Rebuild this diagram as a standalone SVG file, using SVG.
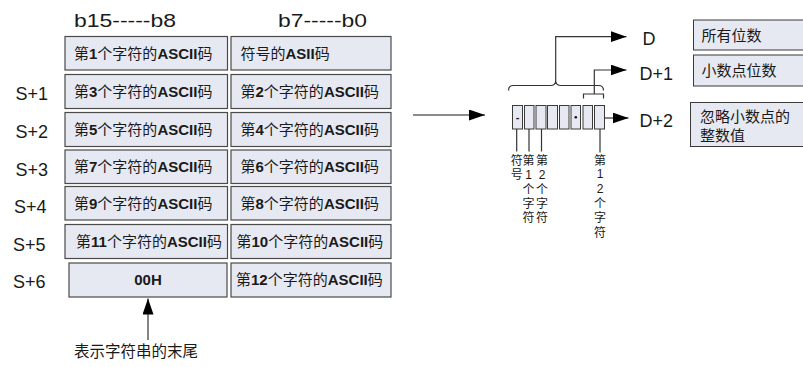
<svg xmlns="http://www.w3.org/2000/svg" width="803" height="367" viewBox="0 0 803 367">
<style>
.bg{fill:#ffffff}
.cell{fill:#e6e9f2;stroke:#4a4a4a;stroke-width:1.2}
.small{fill:#e6e9f2;stroke:#3a3a3a;stroke-width:1}
.t{font-family:"Liberation Sans","Noto Sans CJK SC",sans-serif;fill:#1a1a1a}
.ct{font-size:15px}
.b{font-weight:bold}
.hd{font-size:18.5px}
.lb{font-size:18px}
.sl{font-size:18px}
.vt{font-size:12px;text-anchor:middle}
.ln{fill:none;stroke:#333;stroke-width:1.2}
.gl{fill:none;stroke:#666;stroke-width:1.5}
</style>
<defs>
<marker id="ahb" markerWidth="16" markerHeight="11" refX="16" refY="5.5" orient="auto" markerUnits="userSpaceOnUse">
<path d="M0,0 L16,5.5 L0,11 Z" fill="#000"/>
</marker>
</defs>
<rect class="bg" x="0" y="0" width="803" height="367"/>

<g id="headers">
<text class="t hd" x="74" y="26.5" textLength="102" lengthAdjust="spacingAndGlyphs">b15-----b8</text>
<text class="t hd" x="278" y="26.5" textLength="89" lengthAdjust="spacingAndGlyphs">b7-----b0</text>
</g>

<g id="row-labels">
<text class="t sl" x="15.5" y="100">S+1</text>
<text class="t sl" x="15.5" y="138">S+2</text>
<text class="t sl" x="15.5" y="175.5">S+3</text>
<text class="t sl" x="14" y="213">S+4</text>
<text class="t sl" x="13" y="251">S+5</text>
<text class="t sl" x="13" y="288">S+6</text>
</g>

<g id="r1">
<rect class="cell" x="65" y="36.5" width="162.5" height="33.5"/>
<text class="t ct" x="74" y="58.5">第<tspan class="b">1</tspan>个字符的<tspan class="b">ASCII</tspan>码</text>
<rect class="cell" x="231" y="36.5" width="160" height="33.5"/>
<text class="t ct" x="240.5" y="58.5">符号的<tspan class="b">ASII</tspan>码</text>
</g>
<g id="r2">
<rect class="cell" x="65" y="74.5" width="162.5" height="34"/>
<text class="t ct" x="74" y="96.5">第<tspan class="b">3</tspan>个字符的<tspan class="b">ASCII</tspan>码</text>
<rect class="cell" x="231" y="74.5" width="160" height="34"/>
<text class="t ct" x="240.5" y="96.5">第<tspan class="b">2</tspan>个字符的<tspan class="b">ASCII</tspan>码</text>
</g>
<g id="r3">
<rect class="cell" x="65" y="112.5" width="162.5" height="34"/>
<text class="t ct" x="74" y="134.5">第<tspan class="b">5</tspan>个字符的<tspan class="b">ASCII</tspan>码</text>
<rect class="cell" x="231" y="112.5" width="160" height="34"/>
<text class="t ct" x="240.5" y="134.5">第<tspan class="b">4</tspan>个字符的<tspan class="b">ASCII</tspan>码</text>
</g>
<g id="r4">
<rect class="cell" x="65" y="150" width="162.5" height="33.5"/>
<text class="t ct" x="74" y="172">第<tspan class="b">7</tspan>个字符的<tspan class="b">ASCII</tspan>码</text>
<rect class="cell" x="231" y="150" width="160" height="33.5"/>
<text class="t ct" x="240.5" y="172">第<tspan class="b">6</tspan>个字符的<tspan class="b">ASCII</tspan>码</text>
</g>
<g id="r5">
<rect class="cell" x="65" y="186.5" width="162.5" height="33.5"/>
<text class="t ct" x="74" y="208.5">第<tspan class="b">9</tspan>个字符的<tspan class="b">ASCII</tspan>码</text>
<rect class="cell" x="231" y="186.5" width="160" height="33.5"/>
<text class="t ct" x="240.5" y="208.5">第<tspan class="b">8</tspan>个字符的<tspan class="b">ASCII</tspan>码</text>
</g>
<g id="r6">
<rect class="cell" x="65" y="224.5" width="162.5" height="34"/>
<text class="t ct" x="76" y="246.5">第<tspan class="b">11</tspan>个字符的<tspan class="b">ASCII</tspan>码</text>
<rect class="cell" x="231" y="224.5" width="160" height="34"/>
<text class="t ct" x="236.5" y="246.5">第<tspan class="b">10</tspan>个字符的<tspan class="b">ASCII</tspan>码</text>
</g>
<g id="r7">
<rect class="cell" x="69" y="263" width="158" height="34"/>
<text class="t ct b" x="148" y="285" text-anchor="middle">00H</text>
<rect class="cell" x="231" y="263" width="160" height="34"/>
<text class="t ct" x="236" y="285">第<tspan class="b">12</tspan>个字符的<tspan class="b">ASCII</tspan>码</text>
</g>

<g id="end-note">
<text class="t" font-size="15.5" x="74" y="357">表示字符串的末尾</text>
</g>

<g id="digits">
<rect class="small" x="512.5" y="105.5" width="10" height="23.5"/>
<text class="t" font-size="11" font-weight="bold" x="517.5" y="121" text-anchor="middle">-</text>
<rect class="small" x="524.5" y="105.5" width="9.5" height="23.5"/>
<rect class="small" x="536" y="105.5" width="10" height="23.5"/>
<rect class="small" x="547.5" y="105.5" width="10" height="23.5"/>
<rect class="small" x="559.5" y="105.5" width="9.5" height="23.5"/>
<rect class="small" x="571" y="105.5" width="9.5" height="23.5"/>
<circle cx="575.8" cy="117.3" r="1.3" fill="#111"/>
<rect class="small" x="583" y="105.5" width="9.5" height="23.5"/>
<rect class="small" x="594.5" y="105.5" width="10" height="23.5"/>
</g>

<g id="digit-labels">
<text class="t vt"><tspan x="516.7" y="164.5">符</tspan><tspan x="516.7" y="179">号</tspan></text>
<text class="t vt"><tspan x="528.5" y="164.5">第</tspan><tspan x="528.5" y="178.5">1</tspan><tspan x="528.5" y="194">个</tspan><tspan x="528.5" y="208">字</tspan><tspan x="528.5" y="222">符</tspan></text>
<text class="t vt"><tspan x="542" y="164.5">第</tspan><tspan x="542" y="178.5">2</tspan><tspan x="542" y="194">个</tspan><tspan x="542" y="208">字</tspan><tspan x="542" y="222">符</tspan></text>
<text class="t vt"><tspan x="600" y="164.5">第</tspan><tspan x="600" y="178">1</tspan><tspan x="600" y="192.5">2</tspan><tspan x="600" y="208">个</tspan><tspan x="600" y="222">字</tspan><tspan x="600" y="236.5">符</tspan></text>
</g>

<g id="d-labels">
<text class="t lb" x="642.5" y="45">D</text>
<text class="t lb" x="639.5" y="80">D+1</text>
<text class="t lb" x="639.5" y="126.5">D+2</text>
</g>

<g id="desc1">
<rect class="small" x="693.5" y="20" width="115" height="30"/>
<text class="t" font-size="15" x="701.5" y="40.5">所有位数</text>
</g>
<g id="desc2">
<rect class="small" x="693.5" y="55" width="115" height="31"/>
<text class="t" font-size="15" x="701.5" y="76">小数点位数</text>
</g>
<g id="desc3">
<rect class="small" x="690.5" y="102.5" width="118" height="44"/>
<text class="t" font-size="15" x="700" y="122">忽略小数点的</text>
<text class="t" font-size="15" x="700" y="140.5">整数值</text>
</g>

<g id="connectors">
<line class="gl" x1="413" y1="115" x2="485" y2="115" marker-end="url(#ahb)"/>
<line class="ln" x1="148" y1="340" x2="148" y2="298.5" marker-end="url(#ahb)"/>
<path class="ln" d="M508.5,90.5 Q508.5,85.5 513.5,85.5 L550.5,85.5 Q555.5,85.5 555.7,81 Q556,85.5 561,85.5 L598.5,85.5 Q603.5,85.5 603.5,90.5"/>
<path class="ln" d="M555.7,81 L555.7,36.7 L626.5,36.7" marker-end="url(#ahb)"/>
<path class="ln" d="M583.5,98.5 L583.5,94 L603.5,94 L603.5,98.5"/>
<path class="ln" d="M594.3,94 L594.3,70 L626.5,70" marker-end="url(#ahb)"/>
<line class="ln" x1="604.5" y1="118" x2="628.5" y2="118" marker-end="url(#ahb)"/>
<line class="ln" x1="516.7" y1="129" x2="516.7" y2="151.5"/>
<line class="ln" x1="529" y1="129" x2="529" y2="151.5"/>
<line class="ln" x1="541.5" y1="129" x2="541.5" y2="151.5"/>
<line class="ln" x1="600" y1="129" x2="600" y2="152.5"/>
</g>
</svg>
